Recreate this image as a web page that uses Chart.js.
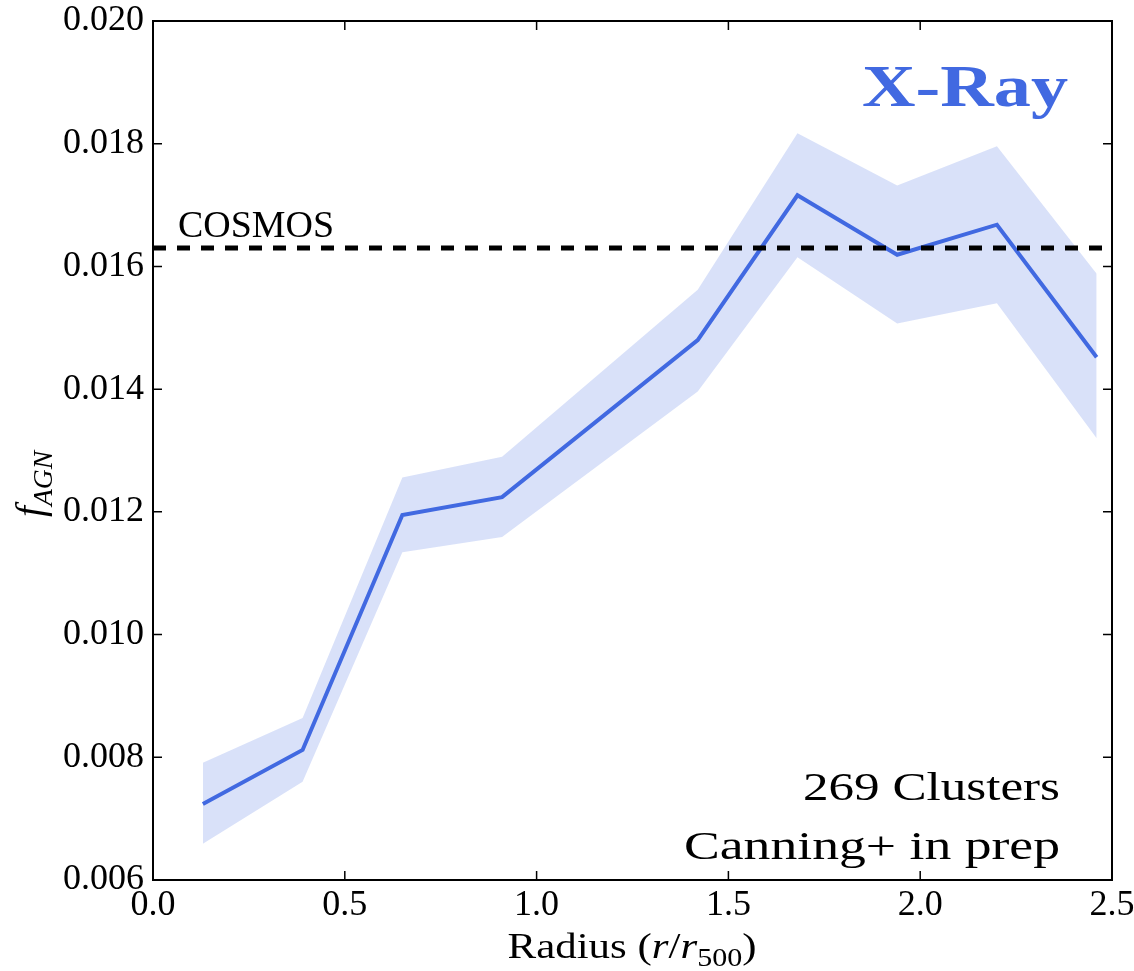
<!DOCTYPE html>
<html>
<head>
<meta charset="utf-8">
<script src="https://cdn.jsdelivr.net/npm/chart.js@4/dist/chart.umd.min.js"></script>
<style>
  html, body { margin: 0; padding: 0; background: #fff; }
  canvas { display: block; }
</style>
</head>
<body>
<canvas id="myChart" width="1134" height="971"></canvas>
<script>
// radial bins (r / r500) and AGN fraction with its 1-sigma band
const radius = [0.13, 0.39, 0.65, 0.91, 1.42, 1.68, 1.94, 2.20, 2.46];
const fAgn   = [0.00724, 0.00812, 0.01195, 0.01224, 0.01480, 0.01716, 0.01619, 0.01668, 0.01452];
const fUpper = [0.00791, 0.00864, 0.01256, 0.01290, 0.01562, 0.01817, 0.01732, 0.01796, 0.01588];
const fLower = [0.00659, 0.00760, 0.01134, 0.01159, 0.01396, 0.01615, 0.01507, 0.01540, 0.01320];
const cosmosLevel = 0.0163;
const xTicks = { min: 0, max: 2.5, step: 0.5 };
const yTicks = { min: 0.006, max: 0.020, step: 0.002 };

const serif = '"Liberation Serif", "DejaVu Serif", serif';
const blue = '#4169E1';

function pts(ys) {
    return radius.map((x, i) => ({ x: x, y: ys[i] }));
}

function fontFor(part, size) {
    var s = part.sub ? size * 0.7 : size;
    return (part.italic ? 'italic ' : '') + (part.bold ? 'bold ' : '') + s + 'px ' + serif;
}

// draws mixed italic / subscript text, squeezed or stretched to a given width
function drawRich(ctx, parts, x, y, o) {
    ctx.save();
    var natural = 0;
    parts.forEach(p => { ctx.font = fontFor(p, o.size); natural += ctx.measureText(p.text).width; });
    var sx = o.width ? o.width / natural : 1;
    var total = natural * sx;
    ctx.translate(x, y);
    if (o.rotate) ctx.rotate(o.rotate);
    var start = o.align == 'right' ? -total : (o.align == 'center' ? -total / 2 : 0);
    ctx.translate(start, 0);
    ctx.scale(sx, 1);
    ctx.fillStyle = o.color || '#000';
    ctx.textBaseline = 'alphabetic';
    ctx.textAlign = 'left';
    var cx = 0;
    parts.forEach(p => {
        ctx.font = fontFor(p, o.size);
        ctx.fillText(p.text, cx, p.sub ? o.size * 0.22 : 0);
        cx += ctx.measureText(p.text).width;
    });
    ctx.restore();
}

const framePlugin = {
    id: 'frame',
    afterDraw(chart) {
        const ctx = chart.ctx;
        const a = chart.chartArea;
        const xs = chart.scales.x, ys = chart.scales.y;
        ctx.save();
        ctx.strokeStyle = '#000';
        ctx.lineWidth = 1.5;
        ctx.beginPath();
        xs.ticks.forEach(t => {
            const px = xs.getPixelForValue(t.value);
            ctx.moveTo(px, a.bottom); ctx.lineTo(px, a.bottom - 9);
            ctx.moveTo(px, a.top); ctx.lineTo(px, a.top + 9);
        });
        ys.ticks.forEach(t => {
            const py = ys.getPixelForValue(t.value);
            ctx.moveTo(a.left, py); ctx.lineTo(a.left + 9, py);
            ctx.moveTo(a.right, py); ctx.lineTo(a.right - 9, py);
        });
        ctx.stroke();
        ctx.lineWidth = 2;
        ctx.strokeRect(a.left, a.top, a.right - a.left, a.bottom - a.top);
        ctx.restore();

        // annotations
        drawRich(ctx, [{ text: 'COSMOS' }], 178, 237, { size: 38, width: 156 });
        drawRich(ctx, [{ text: 'X-Ray', bold: true }], 1068, 106, { size: 60, width: 206, align: 'right', color: blue });
        drawRich(ctx, [{ text: '269 Clusters' }], 1060, 800, { size: 40, width: 257, align: 'right' });
        drawRich(ctx, [{ text: 'Canning+ in prep' }], 1060, 859, { size: 40, width: 376, align: 'right' });

        // axis titles
        drawRich(ctx, [
            { text: 'Radius (' }, { text: 'r', italic: true }, { text: '/' },
            { text: 'r', italic: true }, { text: '500', sub: true }, { text: ')' }
        ], 632, 958, { size: 36, width: 249, align: 'center' });
        drawRich(ctx, [
            { text: 'f', italic: true }, { text: 'AGN', italic: true, sub: true }
        ], 43, 484, { size: 40, width: 66, align: 'center', rotate: -Math.PI / 2 });
    }
};

const ctx = document.getElementById('myChart').getContext('2d');
Chart.defaults.font.family = serif;
Chart.defaults.color = '#000';

const myChart = new Chart(ctx, {
    type: 'line',
    data: {
        datasets: [{
            label: 'lower',
            data: pts(fLower),
            borderWidth: 0,
            pointRadius: 0,
            fill: false,
            order: 4
        }, {
            label: 'upper',
            data: pts(fUpper),
            borderWidth: 0,
            pointRadius: 0,
            backgroundColor: 'rgba(65, 105, 225, 0.2)',
            fill: '-1',
            order: 3
        }, {
            label: 'X-Ray',
            data: pts(fAgn),
            borderColor: blue,
            borderWidth: 4,
            pointRadius: 0,
            fill: false,
            order: 2
        }, {
            label: 'COSMOS',
            data: [{ x: xTicks.min, y: cosmosLevel }, { x: xTicks.max, y: cosmosLevel }],
            borderColor: '#000',
            borderWidth: 5,
            borderDash: [13, 11],
            pointRadius: 0,
            fill: false,
            order: 1
        }]
    },
    options: {
        responsive: false,
        animation: false,
        devicePixelRatio: 1,
        layout: { padding: { top: 21, right: 22, left: 0, bottom: 0 } },
        plugins: {
            legend: { display: false },
            tooltip: { enabled: false }
        },
        scales: {
            x: {
                type: 'linear',
                min: xTicks.min,
                max: xTicks.max,
                grid: { display: false },
                border: { display: false },
                ticks: {
                    stepSize: xTicks.step,
                    font: { size: 36 },
                    padding: -4,
                    maxRotation: 0,
                    callback: v => v.toFixed(1)
                },
                afterFit: scale => {
                    scale.height = 91;
                    scale.paddingLeft = 0;
                    scale.paddingRight = 0;
                }
            },
            y: {
                type: 'linear',
                min: yTicks.min,
                max: yTicks.max,
                grid: { display: false },
                border: { display: false },
                ticks: {
                    stepSize: yTicks.step,
                    font: { size: 36 },
                    padding: 1,
                    callback: v => v.toFixed(3)
                },
                afterFit: scale => {
                    scale.width = 153;
                    scale.paddingTop = 0;
                    scale.paddingBottom = 0;
                }
            }
        }
    },
    plugins: [framePlugin]
});
</script>
</body>
</html>
